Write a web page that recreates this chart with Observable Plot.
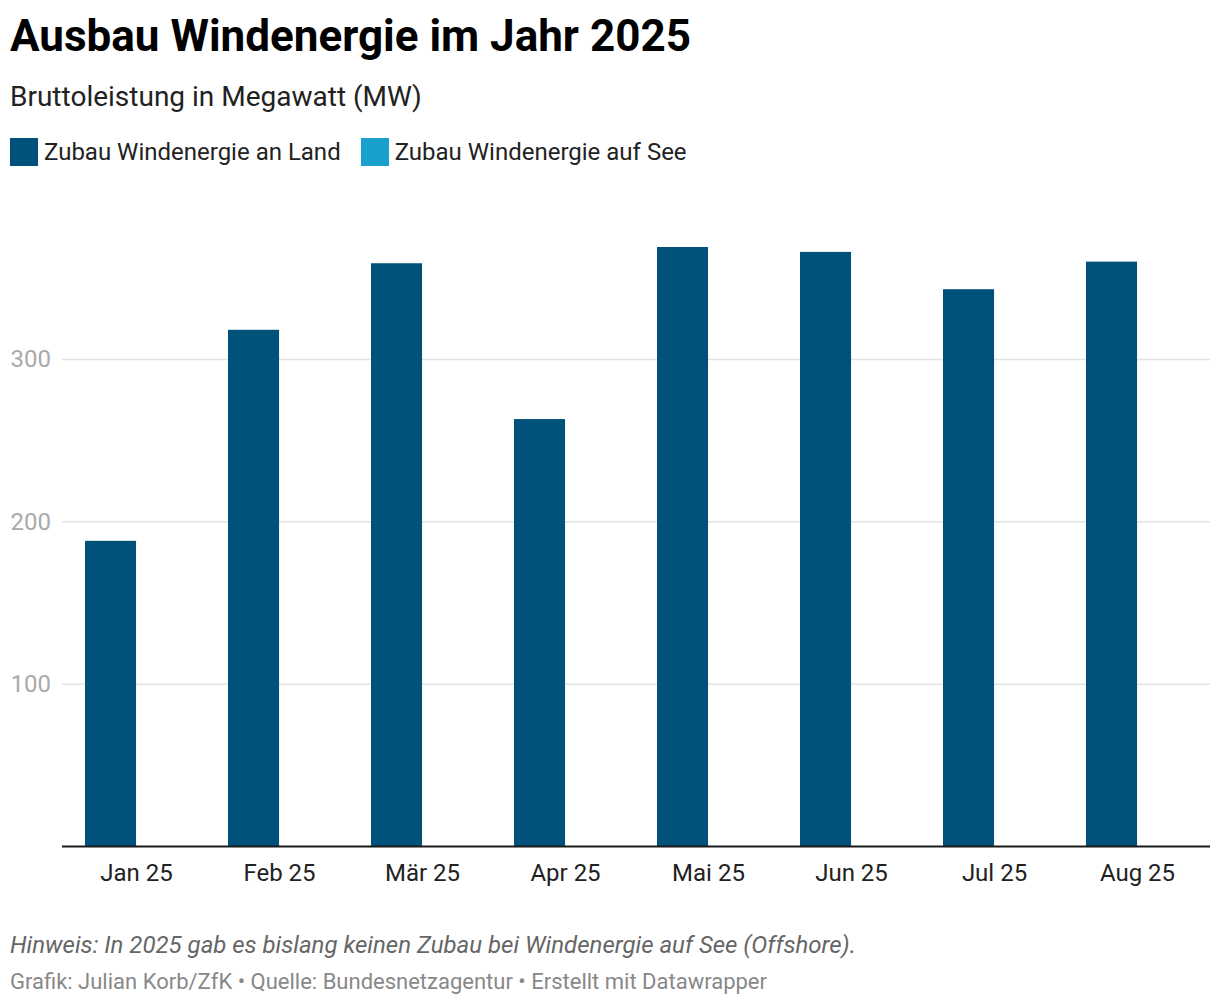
<!DOCTYPE html>
<html>
<head>
<meta charset="utf-8">
<script src="https://cdn.jsdelivr.net/npm/d3@7"></script>
<script src="https://cdn.jsdelivr.net/npm/@observablehq/plot@0.6"></script>
<style>
  html, body { margin: 0; padding: 0; background: #fff; }
  body { font-family: Roboto, "Noto Sans", sans-serif; width: 1220px; height: 1006px; position: relative; overflow: hidden; }
  body > div { position: absolute; left: 10px; white-space: nowrap; }
  #title { top: 10px; font-weight: 700; font-size: 44px; line-height: 52px; color: #000; }
  #subtitle { top: 80px; font-size: 28px; line-height: 34px; color: #222; }
  #legend { top: 138px; display: flex; align-items: center; height: 28px; font-size: 24px; color: #222; }
  .item { display: flex; align-items: center; margin-right: 20px; }
  .sw { width: 28px; height: 28px; margin-right: 6px; }
  #chart { top: 195px; left: 0; height: 705px; }
  #note { top: 930px; font-size: 24px; line-height: 30px; font-style: italic; color: #666; }
  #credit { top: 968px; font-size: 22px; line-height: 28px; color: #888; }
</style>
</head>
<body>
<div id="title">Ausbau Windenergie im Jahr 2025</div>
<div id="subtitle">Bruttoleistung in Megawatt (MW)</div>
<div id="legend"></div>
<div id="chart"></div>
<div id="note">Hinweis: In 2025 gab es bislang keinen Zubau bei Windenergie auf See (Offshore).</div>
<div id="credit">Grafik: Julian Korb/ZfK • Quelle: Bundesnetzagentur • Erstellt mit Datawrapper</div>
<script>
const months = ["Jan 25", "Feb 25", "Mär 25", "Apr 25", "Mai 25", "Jun 25", "Jul 25", "Aug 25"];
const land = [188, 318, 359, 263, 369, 366, 343, 360];
const see = [0, 0, 0, 0, 0, 0, 0, 0];
const seriesNames = ["Zubau Windenergie an Land", "Zubau Windenergie auf See"];
const seriesColors = ["#00527a", "#18a1cd"];
const yTicks = [100, 200, 300];

const legend = document.getElementById("legend");
seriesNames.forEach((n, i) => {
  const it = document.createElement("div");
  it.className = "item";
  it.innerHTML = `<div class="sw" style="background:${seriesColors[i]}"></div><span>${n}</span>`;
  legend.appendChild(it);
});

const data = months.map((m, i) => ({month: m, land: land[i], see: see[i]}));

const width = 1220, height = 705;
const marginLeft = 62, marginRight = 10, marginTop = 52, marginBottom = 54;
const padInner = 0.29, padOuter = 0.145;
const step = (width - marginLeft - marginRight) / months.length;
const half = step * (1 - padInner) / 2;

const chart = Plot.plot({
  width, height, marginLeft, marginRight, marginTop, marginBottom,
  style: {fontFamily: "Roboto, sans-serif", background: "transparent"},
  x: {domain: months, paddingInner: padInner, paddingOuter: padOuter, label: null},
  y: {domain: [0, d3.max(land)], label: null},
  marks: [
    Plot.gridY(yTicks, {stroke: "#e3e3e3", strokeOpacity: 1, strokeWidth: 1.5}),
    Plot.barY(data, {x: "month", y: "land", fill: seriesColors[0], insetRight: half}),
    Plot.barY(data, {x: "month", y: "see", fill: seriesColors[1], insetLeft: half}),
    Plot.ruleY([0], {stroke: "#1a1a1a", strokeWidth: 2}),
    Plot.axisY(yTicks, {tickSize: 0, tickPadding: 52, textAnchor: "start", fontSize: 24, fill: "#aaa", label: null}),
    Plot.axisX({tickSize: 0, tickPadding: 17.5, fontSize: 24, fill: "#222", label: null})
  ]
});
document.getElementById("chart").appendChild(chart);
</script>
</body>
</html>
